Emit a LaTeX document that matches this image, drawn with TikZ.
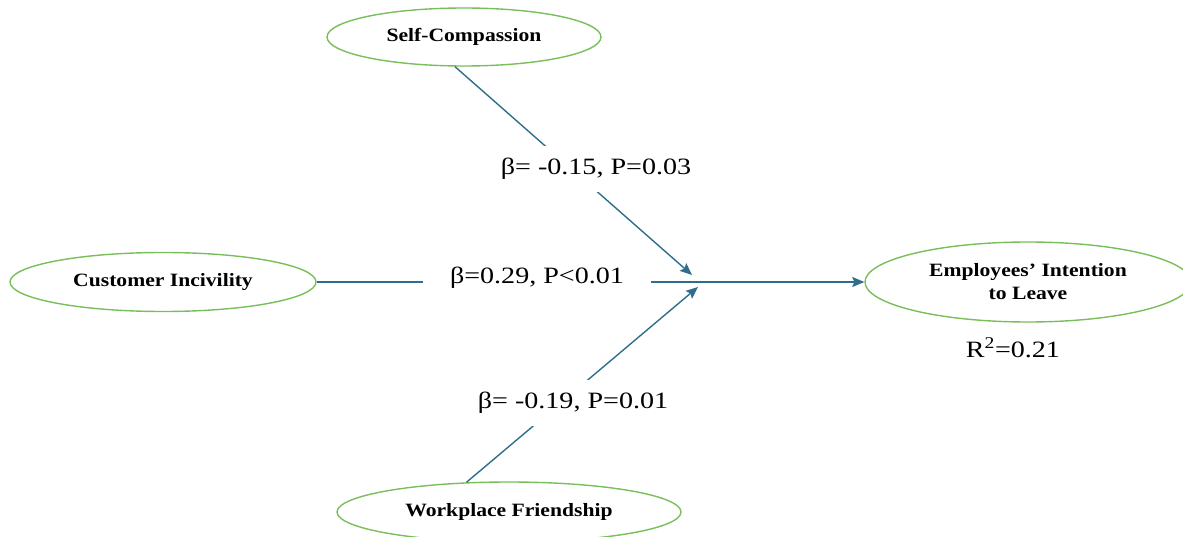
\documentclass[tikz,border=0pt]{standalone}
\usepackage{fontspec}
\setmainfont{Liberation Serif}
\newfontfamily\ellfont[FakeStretch=1.15]{Liberation Serif}
\newfontfamily\coeffont[FakeStretch=1.2]{Liberation Serif}
\usetikzlibrary{shapes.geometric,arrows.meta}
\definecolor{ellgreen}{RGB}{120,190,90}
\definecolor{pathblue}{RGB}{46,110,140}
\tikzset{
  construct/.style={ellipse, draw=ellgreen, line width=1.4pt, inner sep=0pt,
    align=center, font=\ellfont\bfseries\fontsize{18.8}{23}\selectfont},
  coef/.style={fill=white, inner xsep=27pt, inner ysep=12pt,
    font=\coeffont\fontsize{23.4}{28}\selectfont},
  path/.style={draw=pathblue, line width=1.4pt},
  arr/.style={path, -{Stealth[length=12pt,width=10pt,inset=2pt]}}
}
\begin{document}
\begin{tikzpicture}[x=1pt,y=-1pt]
\useasboundingbox (0,0) rectangle (1183,537);
\clip (0,0) rectangle (1183,537);
\node[construct, minimum width=274pt, minimum height=58pt] (sc) at (464,37) {Self-Compassion};
\node[construct, minimum width=306pt, minimum height=59pt] (ci) at (163,282) {Customer Incivility};
\node[construct, minimum width=326pt, minimum height=80pt] (eil) at (1028,282) {Employees’ Intention\\to Leave};
\node[construct, minimum width=344pt, minimum height=60pt] (wf) at (509,512) {Workplace Friendship};
\coordinate (j1) at (692,275);
\coordinate (j2) at (698,287);
\draw[arr] (sc.253) -- (j1);
\draw[arr] (ci) -- (eil);
\draw[arr] (wf.145) -- (j2);
\node[coef] (l1) at (596,169) {β= -0.15, P=0.03};
\node[coef] (l2) at (537,278) {β=0.29, P<0.01};
\node[coef] (l3) at (573,403) {β= -0.19, P=0.01};
\node[font=\coeffont\fontsize{23.4}{28}\selectfont] (r2) at (1013,348) {R\textsuperscript{2}=0.21};
\end{tikzpicture}
\end{document}
